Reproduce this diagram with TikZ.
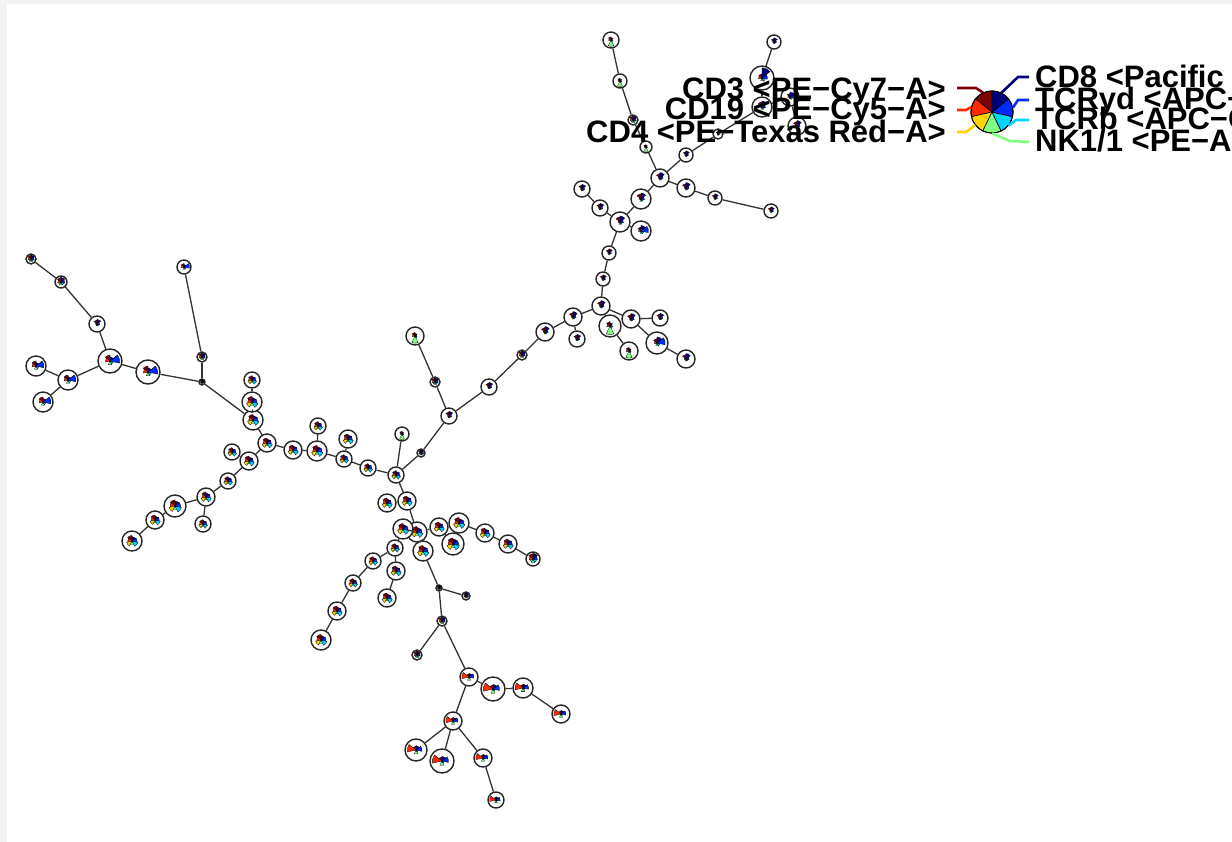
\documentclass[tikz,border=0pt]{standalone}
\usepackage{fontspec}
\setmainfont{Liberation Sans}
% marker colours (jet palette, 7 markers)
\definecolor{mkA}{HTML}{7F0000}% CD3
\definecolor{mkB}{HTML}{FF2A00}% CD19
\definecolor{mkC}{HTML}{FFD400}% CD4
\definecolor{mkD}{HTML}{80FF80}% NK1/1
\definecolor{mkE}{HTML}{00D4FF}% TCRb
\definecolor{mkF}{HTML}{002AFF}% TCRyd
\definecolor{mkG}{HTML}{00007F}% CD8
\definecolor{margin}{HTML}{F3F3F3}
% star-chart profiles: relative wedge radius / colour, counter-clockwise from the top
\def\patN{0.5/mkA,0.2/mkB,0.1/mkC,0.25/mkD,0.25/mkE,0.35/mkF,0.6/mkG}
\def\patNb{0.4/mkA,0.25/mkB,0.1/mkC,0.25/mkD,0.3/mkE,0.75/mkF,0.55/mkG}
\def\patNc{0.35/mkA,0.3/mkB,0.1/mkC,0.25/mkD,0.3/mkE,0.45/mkF,0.85/mkG}
\def\patG{0.4/mkA,0.3/mkB,0.1/mkC,0.8/mkD,0.25/mkE,0.2/mkF,0.3/mkG}
\def\patD{0.75/mkA,0.55/mkB,0.45/mkC,0.55/mkD,0.55/mkE,0.65/mkF,0.8/mkG}
\def\patM{0.55/mkA,0.45/mkB,0.55/mkC,0.35/mkD,0.6/mkE,0.5/mkF,0.45/mkG}
\def\patL{0.5/mkA,0.4/mkB,0.1/mkC,0.35/mkD,0.3/mkE,0.8/mkF,0.35/mkG}
\def\patB{0.35/mkA,0.8/mkB,0.1/mkC,0.4/mkD,0.2/mkE,0.55/mkF,0.4/mkG}
\def\patLeg{1/mkA,1/mkB,1/mkC,1/mkD,1/mkE,1/mkF,1/mkG}
\tikzset{
  fsnode/.style={circle,draw=black!85,fill=white,line width=1.4pt,inner sep=0pt},
  mst/.style={draw=black!80,line width=1.3pt},
  lead/.style={line width=2.6pt},
  lab/.style={inner sep=0pt,font=\bfseries\fontsize{31}{31}\selectfont},
}
% star chart of one cluster: node name, radius, profile, outline width
\newcommand\fsstar[4]{%
  \foreach \v/\c [count=\i] in #3 {%
    \pgfmathsetmacro\fsang{90+(\i-1)*360/7}%
    \pgfmathsetmacro\fsrad{\v*#2}%
    \filldraw[fill=\c,draw=black,line width=#4] (#1.center) -- ++(\fsang:\fsrad pt)
      arc[start angle=\fsang, delta angle=51.4286, radius=\fsrad pt] -- cycle;
  }}
% cluster node: name, x, y, radius, profile
\newcommand\fs[5]{%
  \node[fsnode,minimum size={2*#4 pt}] (#1) at (#2,#3) {};
  \fsstar{#1}{#4}{#5}{0.3pt}}
\begin{document}
\begin{tikzpicture}[x=1pt,y=-1pt]
\useasboundingbox (0,0) rectangle (1232,842);
\clip (0,0) rectangle (1232,842);
\fill[margin] (0,0) rectangle (1232,842);
\fill[white] (7,4) rectangle (1232,842);

% ---- top branch
\fs{t1}{611}{40}{8}{\patG}
\fs{t2}{620}{81}{7}{\patG}
\fs{t3}{633}{120}{5}{\patD}
\fs{t4}{646}{147}{6}{\patG}
\fs{h1}{660}{178}{9}{\patN}
\fs{t5}{686}{188}{9}{\patN}
\fs{t6}{715}{198}{7}{\patN}
\fs{t7}{771}{211}{7}{\patN}
\fs{t8}{686}{155}{7}{\patN}
\fs{t9}{718}{134}{5}{\patN}
\fs{t10}{762}{107}{10}{\patN}
\fs{t11}{790}{97}{9}{\patNb}
\fs{t12}{762}{78}{12}{\patNc}
\fs{t13}{774}{42}{7}{\patN}
\fs{t14}{797}{126}{9}{\patN}
% ---- upper middle
\fs{u1}{641}{199}{10}{\patN}
\fs{u2}{620}{222}{10}{\patN}
\fs{u3}{600}{208}{8}{\patN}
\fs{u4}{582}{189}{8}{\patN}
\fs{u5}{641}{231}{10}{\patNb}
\fs{u6}{609}{253}{7}{\patN}
\fs{u7}{603}{279}{7}{\patN}
\fs{u8}{601}{306}{9}{\patN}
\fs{u9}{573}{317}{9}{\patN}
\fs{u10}{577}{339}{8}{\patN}
\fs{u11}{631}{319}{9}{\patN}
\fs{u12}{660}{318}{8}{\patN}
\fs{u13}{610}{326}{11}{\patG}
\fs{u14}{629}{351}{9}{\patG}
\fs{u15}{657}{343}{11}{\patNb}
\fs{u16}{686}{359}{9}{\patN}
% ---- middle chain
\fs{m1}{545}{332}{9}{\patN}
\fs{m2}{522}{355}{5}{\patD}
\fs{m3}{489}{387}{8}{\patN}
\fs{m4}{449}{416}{8}{\patN}
\fs{m5}{435}{382}{5}{\patD}
\fs{m6}{415}{336}{9}{\patG}
\fs{m7}{421}{453}{4}{\patD}
\fs{m8}{402}{434}{7}{\patG}
\fs{hub}{396}{475}{8}{\patM}
% ---- left middle
\fs{c1}{368}{468}{8}{\patM}
\fs{c2}{344}{459}{8}{\patM}
\fs{c3}{348}{439}{9}{\patM}
\fs{c4}{317}{451}{10}{\patM}
\fs{c5}{318}{426}{8}{\patM}
\fs{c6}{293}{450}{9}{\patM}
\fs{c7}{267}{443}{9}{\patM}
\fs{c8}{253}{420}{10}{\patM}
\fs{c9}{252}{402}{10}{\patM}
\fs{c10}{252}{380}{8}{\patM}
\fs{c11}{249}{461}{9}{\patM}
\fs{c12}{232}{452}{8}{\patM}
\fs{c13}{228}{481}{8}{\patM}
\fs{c14}{206}{497}{9}{\patM}
\fs{c15}{175}{506}{11}{\patM}
\fs{c16}{155}{520}{9}{\patM}
\fs{c17}{132}{541}{10}{\patM}
\fs{c18}{203}{524}{8}{\patM}
% ---- far left
\fs{l0}{202}{382}{3}{\patD}
\fs{l1}{202}{357}{5}{\patD}
\fs{l2}{184}{267}{7}{\patL}
\fs{l3}{148}{372}{12}{\patL}
\fs{l4}{110}{361}{12}{\patL}
\fs{l5}{97}{324}{8}{\patN}
\fs{l6}{61}{282}{6}{\patD}
\fs{l7}{31}{259}{5}{\patD}
\fs{l8}{68}{380}{10}{\patL}
\fs{l9}{36}{366}{10}{\patL}
\fs{l10}{43}{402}{10}{\patL}
% ---- lower middle
\fs{d1}{407}{501}{9}{\patM}
\fs{d2}{387}{503}{9}{\patM}
\fs{d3}{417}{532}{10}{\patM}
\fs{d4}{403}{529}{10}{\patM}
\fs{d5}{439}{527}{9}{\patM}
\fs{d6}{459}{523}{10}{\patM}
\fs{d7}{453}{544}{11}{\patM}
\fs{d8}{485}{533}{9}{\patM}
\fs{d9}{508}{544}{9}{\patM}
\fs{d10}{533}{559}{7}{\patD}
\fs{d11}{423}{551}{10}{\patM}
\fs{d12}{395}{548}{8}{\patM}
\fs{d13}{396}{571}{9}{\patM}
\fs{d14}{387}{598}{9}{\patM}
\fs{d15}{373}{561}{8}{\patM}
\fs{d16}{353}{583}{8}{\patM}
\fs{d17}{337}{611}{9}{\patM}
\fs{d18}{321}{640}{10}{\patM}
% ---- bottom branch
\fs{b1}{439}{588}{3}{\patD}
\fs{b2}{466}{596}{4}{\patD}
\fs{b3}{442}{621}{5}{\patD}
\fs{b4}{417}{655}{5}{\patD}
\fs{b5}{469}{677}{9}{\patB}
\fs{b6}{493}{689}{12}{\patB}
\fs{b7}{523}{688}{10}{\patB}
\fs{b8}{561}{714}{9}{\patB}
\fs{b9}{453}{721}{9}{\patB}
\fs{b10}{416}{750}{11}{\patB}
\fs{b11}{442}{761}{12}{\patB}
\fs{b12}{483}{758}{9}{\patB}
\fs{b13}{496}{800}{8}{\patB}

% ---- minimum spanning tree edges
\foreach \a/\b in {t1/t2,t2/t3,t3/t4,t4/h1,h1/t5,t5/t6,t6/t7,h1/t8,t8/t9,t9/t10,
  t10/t12,t12/t13,t10/t11,t11/t14,
  h1/u1,u1/u2,u2/u3,u3/u4,u2/u5,u2/u6,u6/u7,u7/u8,u8/u9,u9/u10,u8/u11,u11/u12,
  u11/u15,u15/u16,u8/u13,u13/u14,
  u9/m1,m1/m2,m2/m3,m3/m4,m4/m5,m5/m6,m4/m7,m7/hub,m8/hub,
  hub/c1,c1/c2,c2/c3,c2/c4,c4/c5,c4/c6,c6/c7,c7/c8,c8/c9,c9/c10,c7/c11,c11/c12,
  c11/c13,c13/c14,c14/c15,c15/c16,c16/c17,c14/c18,
  c8/l0,l0/l1,l1/l2,l0/l3,l3/l4,l4/l5,l5/l6,l6/l7,l4/l8,l8/l9,l8/l10,
  hub/d1,d1/d2,d1/d3,d3/d4,d3/d5,d5/d6,d6/d8,d8/d9,d9/d10,d5/d7,d3/d11,d4/d12,
  d12/d13,d13/d14,d12/d15,d15/d16,d16/d17,d17/d18,
  d11/b1,b1/b2,b1/b3,b3/b4,b3/b5,b5/b6,b6/b7,b7/b8,b5/b9,b9/b10,b9/b11,b9/b12,b12/b13}
  \draw[mst] (\a) -- (\b);

% ---- marker legend
\node[circle,draw=black,line width=0.8pt,minimum size=42pt,inner sep=0pt] (lg) at (992,112) {};
\fsstar{lg}{21}{\patLeg}{0.6pt}
\draw[black,line width=0.9pt] (lg.center) circle[radius=21pt];

\node[lab,anchor=base east] (lCD3) at (946,100) {CD3 <PE−Cy7−A>};
\node[lab,anchor=base east] (lCD19) at (946,120) {CD19 <PE−Cy5−A>};
\node[lab,anchor=base east] (lCD4) at (946,143) {CD4 <PE−Texas Red−A>};
\node[lab,anchor=base west] (lCD8) at (1035,88) {CD8 <Pacific Blue−A>};
\node[lab,anchor=base west] (lTCRyd) at (1035,110) {TCRyd <APC−A>};
\node[lab,anchor=base west] (lTCRb) at (1035,130) {TCRb <APC−Cy7−A>};
\node[lab,anchor=base west] (lNK) at (1035,152) {NK1/1 <PE−A>};

\coordinate (eCD3) at (957,88);
\coordinate (eCD19) at (957,110);
\coordinate (eCD4) at (957,132);
\coordinate (eCD8) at (1029,77);
\coordinate (eTCRyd) at (1029,100);
\coordinate (eTCRb) at (1029,120);
\coordinate (eNK) at (1029,142);
\draw[lead,mkA] (lg.115.7) -- (976,88) -- (eCD3);
\draw[lead,mkB] (lg.167.1) -- (966,110) -- (eCD19);
\draw[lead,mkC] (lg.218.6) -- (966,132) -- (eCD4);
\draw[lead,mkG] (lg.64.3) -- (1018,77) -- (eCD8);
\draw[lead,mkF] (lg.12.9) -- (1018,100) -- (eTCRyd);
\draw[lead,mkE] (lg.321.4) -- (1016,120) -- (eTCRb);
\draw[lead,mkD] (lg.270) -- (1010,141) -- (eNK);
\end{tikzpicture}
\end{document}
